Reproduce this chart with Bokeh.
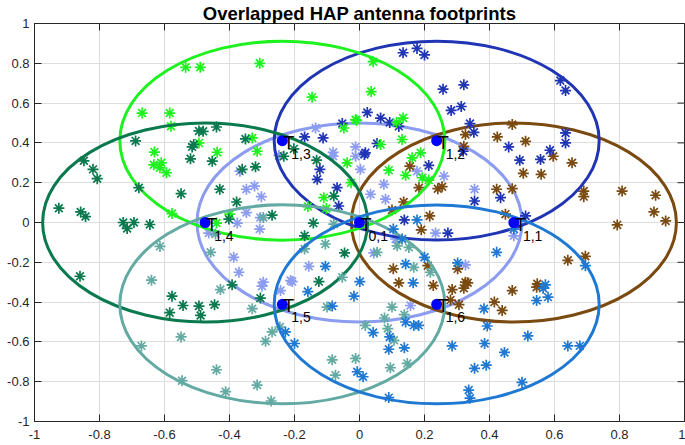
import math
from bokeh.plotting import figure
from bokeh.models import Range1d, FixedTicker, Title
from bokeh.embed import file_html
from bokeh.resources import INLINE
from bokeh.core.properties import value

title_text = "Overlapped HAP antenna footprints"
tick_values = [-1, -0.8, -0.6, -0.4, -0.2, 0, 0.2, 0.4, 0.6, 0.8, 1]
tick_labels = ["-1", "-0.8", "-0.6", "-0.4", "-0.2", "0", "0.2", "0.4", "0.6", "0.8", "1"]

cell_labels = ["0,1", "1,1", "1,2", "1,3", "1,4", "1,5", "1,6"]
center_x = [0.0, 0.475, 0.2375, -0.2375, -0.475, -0.2375, 0.2375]
center_y = [0.0, 0.0, 0.4114, 0.4114, 0.0, -0.4114, -0.4114]
footprint_diameter = [1.0, 1.0, 1.0, 1.0, 1.0, 1.0, 1.0]
cell_colors = ["#8c9cf0", "#7a4a10", "#1f35b4", "#1ef21e", "#0a7a4e", "#62aaa2", "#1f78d2"]

users_x_01 = [-0.135, -0.081, -0.012, -0.248, -0.081, -0.012, -0.368, -0.348, -0.323, -0.302, -0.348,
              -0.305, -0.307, -0.376, -0.464, -0.387, -0.371, -0.296, -0.156, -0.212, -0.3, -0.207,
              -0.243, 0.157, 0.003, 0.075, 0.034, 0.08, 0.177, 0.26, 0.354, 0.234, 0.111, 0.044,
              0.475, 0.326]
users_y_01 = [0.475, 0.353, 0.38, 0.337, 0.333, 0.333, 0.258, 0.167, 0.183, 0.13, 0.05,
              0.025, -0.033, -0.003, -0.053, -0.175, -0.25, -0.3, -0.22, -0.292, -0.32, -0.297,
              -0.342, -0.417, 0.267, 0.192, 0.142, 0.117, 0.258, 0.233, 0.167, -0.053, -0.083, -0.153,
              -0.067, -0.213]

users_x_11 = [0.326, 0.424, 0.47, 0.321, 0.511, 0.596, 0.654, 0.504, 0.559, 0.47, 0.69, 0.69, 0.808,
              0.911, 0.906, 0.942, 0.793, 0.641, 0.695, 0.547, 0.155, 0.183, 0.241, 0.254, 0.136, 0.1,
              0.216, 0.19, 0.422, 0.449, 0.104, 0.21, 0.302, 0.121, 0.326, 0.227, 0.285, 0.321, 0.333,
              0.28, 0.306, 0.415, 0.439, 0.47, 0.545]
users_y_11 = [0.442, 0.43, 0.492, 0.383, 0.408, 0.333, 0.3, 0.247, 0.242, 0.17, 0.158, 0.13, 0.158,
              0.137, 0.053, 0.008, -0.012, -0.19, -0.17, -0.308, 0.283, 0.175, 0.17, 0.18, 0.103, 0.063,
              0.033, -0.037, 0.167, 0.042, -0.233, -0.217, -0.233, -0.303, -0.3, -0.317, -0.337, -0.33, -0.303,
              -0.39, -0.413, -0.4, -0.442, -0.342, -0.325]

users_x_12 = [0.134, 0.177, 0.2, 0.257, 0.321, 0.282, 0.313, 0.024, 0.065, 0.093, 0.121, 0.34, 0.352,
              0.459, 0.319, 0.018, 0.618, 0.634, 0.634, 0.634, 0.586, 0.493, 0.557, 0.511, -0.169,
              -0.112, -0.053, -0.122, -0.13, -0.069, -0.064, 0.015, 0.213, 0.354, 0.434, 0.138, 0.272,
              0.054]
users_y_12 = [0.853, 0.875, 0.842, 0.67, 0.692, 0.563, 0.583, 0.553, 0.525, 0.503, 0.483, 0.497, 0.453,
              0.38, 0.358, 0.35, 0.713, 0.663, 0.45, 0.4, 0.363, 0.313, 0.317, 0.033, 0.43,
              0.425, 0.497, 0.267, 0.217, 0.175, 0.083, 0.342, 0.287, 0.108, 0.125, 0.013, -0.053,
              0.397]

users_x_13 = [-0.535, -0.49, -0.669, -0.584, -0.58, -0.631, -0.633, -0.61, -0.614, -0.594, -0.577,
              -0.307, -0.146, -0.012, -0.048, -0.494, -0.33, -0.315, -0.438, -0.44, -0.399, -0.159,
              -0.11, -0.102, -0.026, -0.038, 0.042, 0.036, -0.009, 0.134, 0.114, 0.131, 0.065, 0.188,
              0.09, 0.142, 0.162, 0.193, 0.213]
users_y_13 = [0.78, 0.78, 0.55, 0.55, 0.484, 0.354, 0.29, 0.3, 0.275, 0.25, 0.045,
              0.8, 0.63, 0.517, 0.475, 0.4, 0.425, 0.358, 0.353, -0.003, 0.042, 0.08,
              0.125, 0.07, 0.2, 0.3, 0.808, 0.658, 0.513, 0.525, 0.503, 0.417, 0.392, 0.35,
              0.263, 0.237, 0.325, 0.225, 0.213]

users_x_14 = [-0.689, -0.515, -0.494, -0.52, -0.848, -0.82, -0.807, -0.679, -0.549, -0.925, -0.858,
              -0.843, -0.727, -0.694, -0.715, -0.645, -0.86, -0.577, -0.543, -0.584, -0.494, -0.489,
              -0.446, -0.392, -0.305, -0.125, -0.481, -0.44, -0.51, -0.351, -0.202, -0.453, -0.361,
              -0.32, -0.43, -0.378, -0.402, -0.269, -0.142, -0.169, -0.132, -0.079, -0.046, -0.233]
users_y_14 = [0.41, 0.38, 0.46, 0.32, 0.31, 0.267, 0.22, 0.175, 0.145, 0.072, 0.053,
              0.03, 0.0, 0.0, -0.03, -0.01, -0.27, -0.37, -0.417, -0.453, -0.42, -0.467,
              -0.413, -0.313, -0.38, -0.297, 0.458, 0.48, 0.392, 0.42, 0.37, 0.308, 0.267,
              0.28, 0.167, 0.103, 0.017, 0.037, -0.003, -0.067, 0.313, 0.133, -0.153, 0.333]

users_x_15 = [-0.614, -0.64, -0.549, -0.671, -0.546, -0.428, -0.33, -0.269, -0.245, -0.289, -0.44,
              -0.315, -0.412, -0.272, -0.084, -0.074, -0.053, -0.1, -0.012, 0.1, 0.077, 0.018, 0.087,
              0.106, 0.095, 0.147, 0.138, -0.443, -0.458, -0.296, -0.105, -0.169, -0.079, 0.054,
              0.116, 0.152, 0.167, 0.218]
users_y_15 = [-0.12, -0.29, -0.575, -0.62, -0.795, -0.337, -0.433, -0.55, -0.525, -0.597, -0.74,
              -0.817, -0.85, -0.897, -0.69, -0.767, -0.275, -0.425, -0.683, -0.425, -0.48, -0.517, -0.533,
              -0.592, -0.73, -0.708, -0.463, -0.058, -0.15, 0.025, -0.108, -0.133, -0.008, -0.15,
              -0.117, -0.125, -0.225, -0.25]

users_x_16 = [-0.159, -0.084, -0.017, -0.228, -0.2, -0.007, 0.001, 0.165, 0.142, 0.167, 0.182, 0.042,
              0.093, 0.09, 0.138, 0.011, 0.383, 0.393, 0.285, 0.385, 0.446, 0.354, 0.39, 0.09, 0.336,
              0.34, 0.565, 0.545, 0.58, 0.518, 0.641, 0.678, 0.5, 0.695, 0.475, 0.572, -0.105, 0.177,
              0.104, 0.131, 0.2, 0.142, 0.422, 0.302]
users_y_16 = [-0.347, -0.42, -0.37, -0.55, -0.608, -0.75, -0.297, -0.303, -0.5, -0.517, -0.517, -0.553,
              -0.575, -0.637, -0.63, -0.775, -0.433, -0.52, -0.62, -0.608, -0.653, -0.733, -0.717, -0.88, -0.842,
              -0.883, -0.33, -0.392, -0.375, -0.57, -0.62, -0.62, -0.803, -0.217, -0.033, -0.313, -0.22, 0.013,
              -0.033, -0.083, -0.175, -0.208, -0.15, -0.203]

users_x = [users_x_01, users_x_11, users_x_12, users_x_13, users_x_14, users_x_15, users_x_16]
users_y = [users_y_01, users_y_11, users_y_12, users_y_13, users_y_14, users_y_15, users_y_16]

AX = "#262626"
FONT = "Liberation Sans"

title = Title(text=title_text, align="center", text_font=FONT, text_font_size="18.5px",
              text_font_style="bold", text_color="black", standoff=0, offset=0)

p = figure(width=685, height=445, x_range=Range1d(-1, 1), y_range=Range1d(-1, 1),
           output_backend="svg", toolbar_location=None, title=title,
           min_border_left=34, min_border_right=1, min_border_top=0, min_border_bottom=24)
p.background_fill_color = "white"
p.border_fill_color = "white"
p.outline_line_color = AX
p.outline_line_width = 1

ticker = FixedTicker(ticks=tick_values)
overrides = dict(zip(tick_values, tick_labels))

for ax in (p.xaxis[0], p.yaxis[0]):
    ax.ticker = ticker
    ax.major_label_overrides = overrides
    ax.major_tick_in = 7
    ax.major_tick_out = 0
    ax.minor_tick_line_color = None
    ax.axis_line_color = AX
    ax.major_tick_line_color = AX
    ax.major_label_text_color = AX
    ax.major_label_text_font = FONT
    ax.major_label_text_font_size = "13px"
p.xaxis[0].major_label_standoff = 8
p.yaxis[0].major_label_standoff = 5

for g in (p.xgrid[0], p.ygrid[0]):
    g.ticker = ticker
    g.grid_line_color = "#dedede"
    g.grid_line_width = 1

# inward tick marks on the top and right edges of the box (outer half is clipped by the frame)
n_ticks = len(tick_values)
p.scatter(tick_values, [p.y_range.end] * n_ticks, marker="dash", size=14, angle=math.pi / 2,
          line_color=AX, line_width=1)
p.scatter([p.x_range.end] * n_ticks, tick_values, marker="dash", size=14,
          line_color=AX, line_width=1)

for i in range(len(cell_labels)):
    p.scatter(users_x[i], users_y[i], marker="asterisk", size=11, line_color=cell_colors[i], line_width=1.7)
    p.ellipse(x=[center_x[i]], y=[center_y[i]], width=[footprint_diameter[i]], height=[footprint_diameter[i]],
              fill_color=None, line_color=cell_colors[i], line_width=3)

p.scatter(center_x, center_y, marker="circle", size=11, fill_color="#0000ff", line_color=None)
p.text(center_x, center_y, text=["T"] * len(cell_labels), text_font=value(FONT), text_font_size="18px",
       text_color="black", text_baseline="alphabetic", text_align="left", x_offset=1, y_offset=2)
p.text(center_x, center_y, text=cell_labels, text_font=value(FONT), text_font_size="14px",
       text_color="black", text_baseline="alphabetic", text_align="left", x_offset=9, y_offset=13)

open("out.html", "w").write(file_html(p, INLINE))
